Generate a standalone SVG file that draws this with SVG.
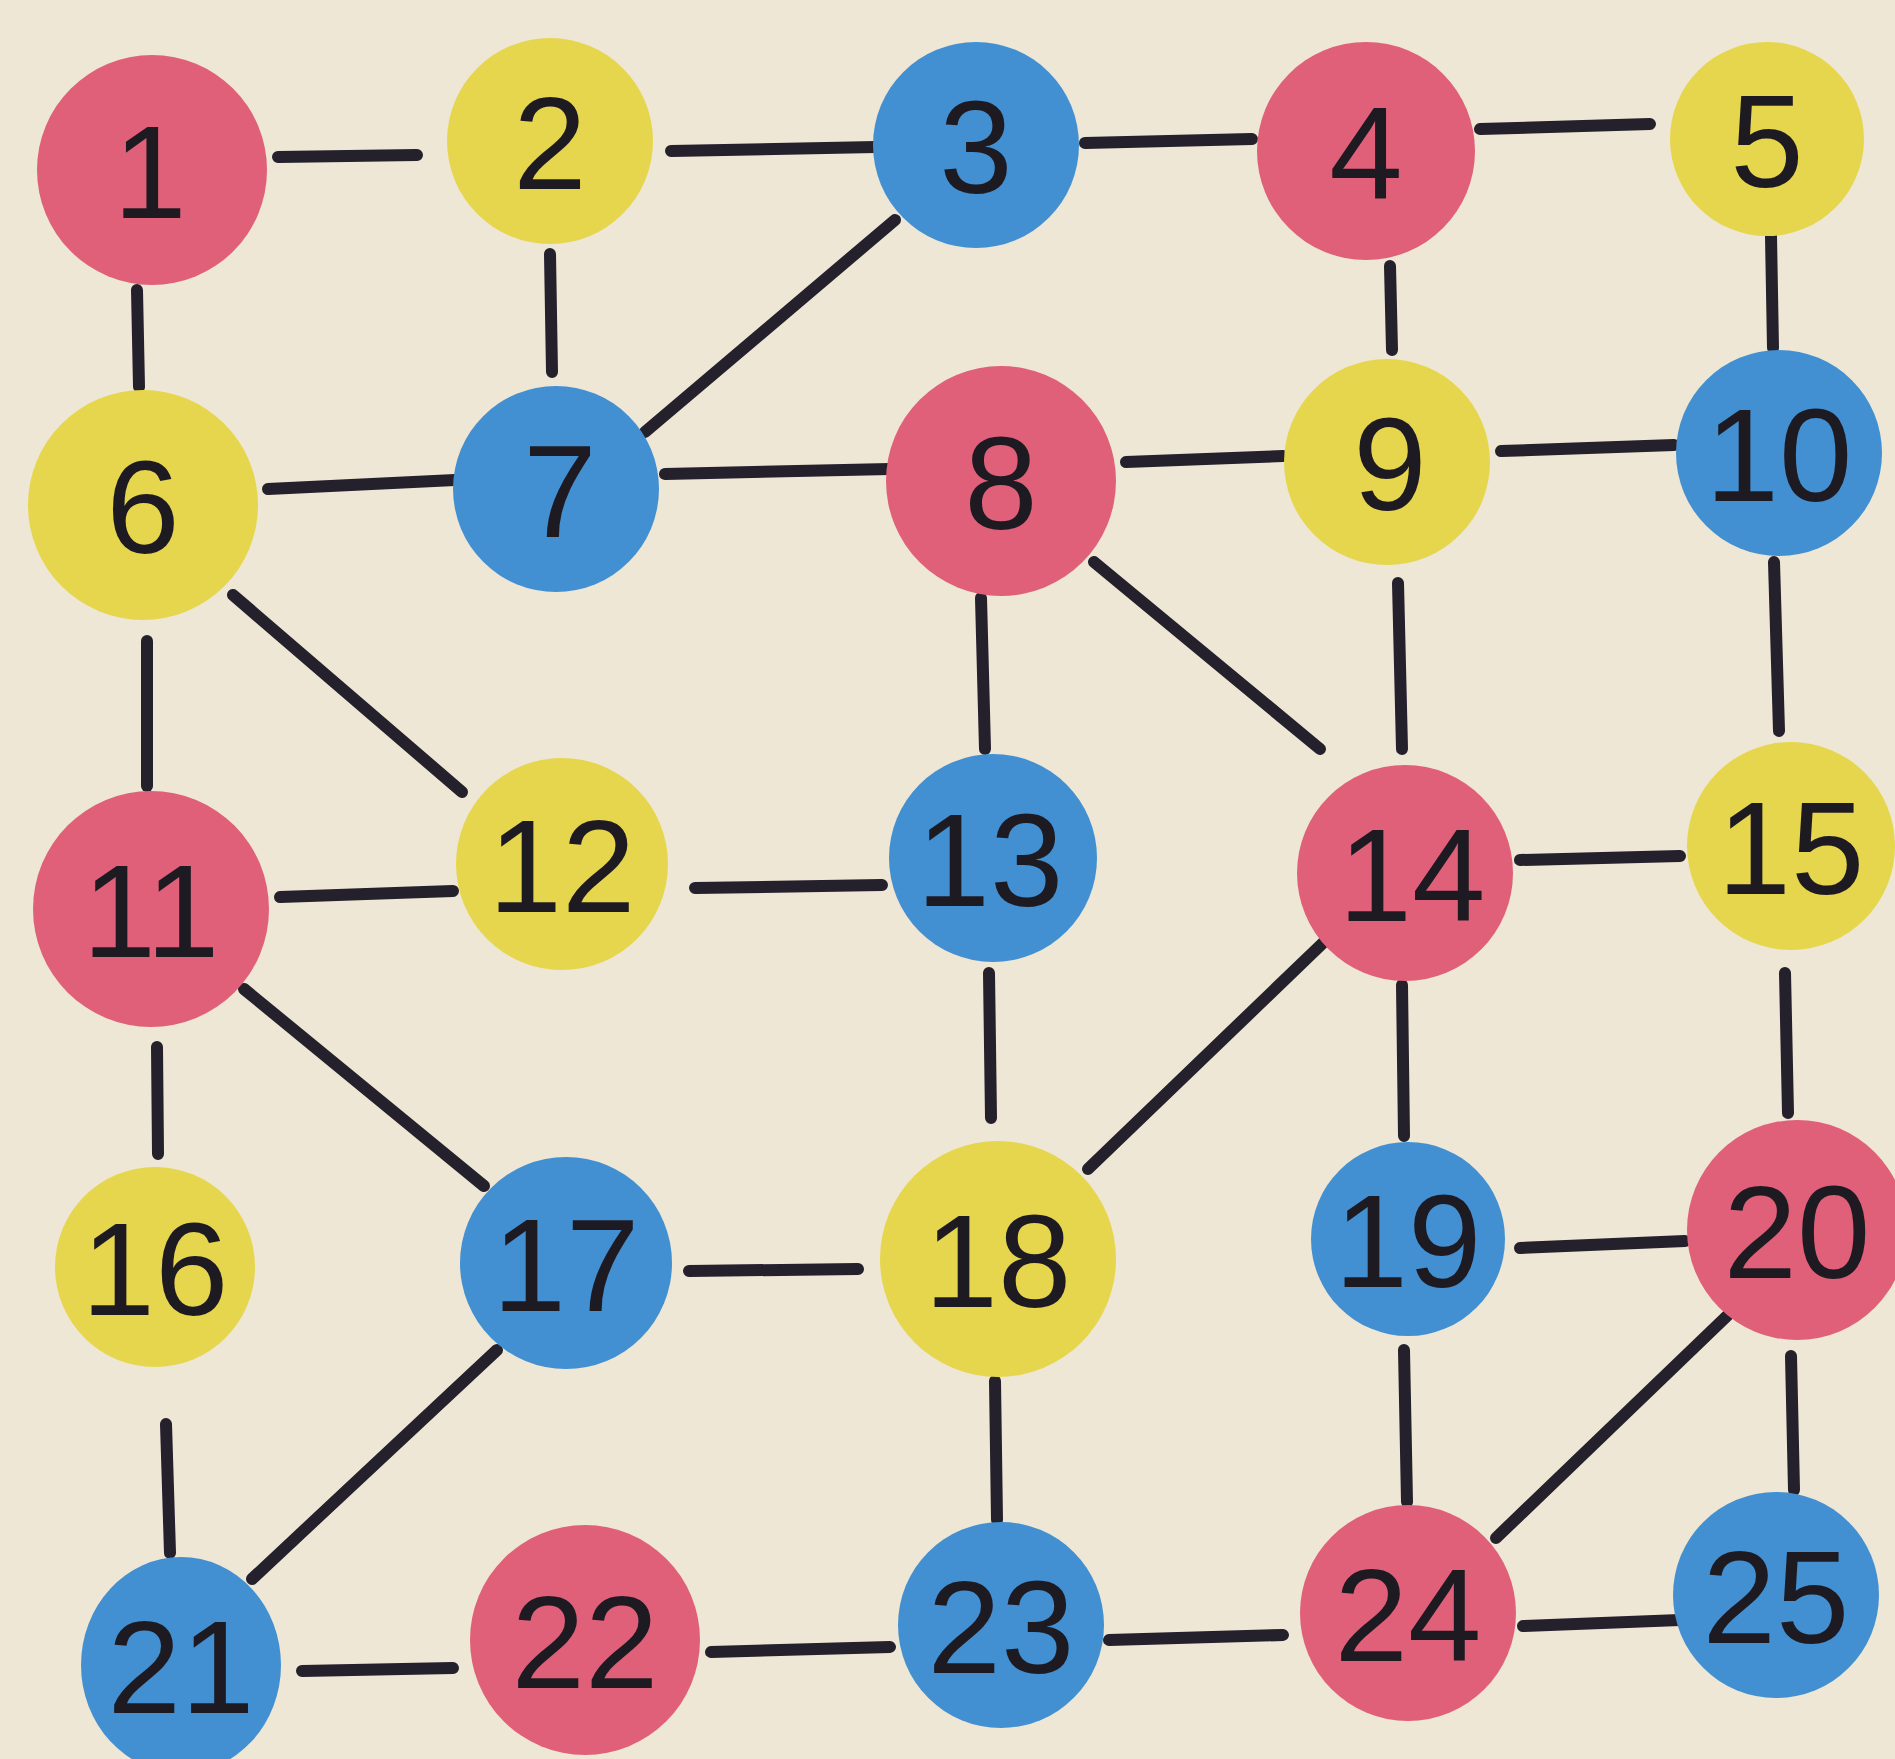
<svg xmlns="http://www.w3.org/2000/svg" width="1895" height="1759" viewBox="0 0 1895 1759">
<style>
.bg{fill:#eee7d5}
.p{fill:#e0607a}
.y{fill:#e6d64e}
.b{fill:#4290d2}
.e line{stroke:#24202c;stroke-width:12;stroke-linecap:round}
text{font-family:"Liberation Sans",Arial,sans-serif;font-size:132px;fill:#1e1a22;text-anchor:middle}
</style>
<rect class="bg" x="0" y="0" width="1895" height="1759"/>
<g id="connectors" class="e">
<line x1="278" y1="157" x2="417" y2="155"/>
<line x1="671" y1="151" x2="876" y2="147"/>
<line x1="1085" y1="143" x2="1252" y2="139"/>
<line x1="1480" y1="129" x2="1650" y2="124"/>
<line x1="137" y1="290" x2="139" y2="387"/>
<line x1="550" y1="254" x2="552" y2="372"/>
<line x1="895" y1="220" x2="645" y2="432"/>
<line x1="1390" y1="266" x2="1392" y2="350"/>
<line x1="1771" y1="236" x2="1773" y2="348"/>
<line x1="268" y1="489" x2="455" y2="480"/>
<line x1="665" y1="474" x2="890" y2="469"/>
<line x1="1126" y1="462" x2="1283" y2="456"/>
<line x1="1501" y1="451" x2="1674" y2="445"/>
<line x1="147" y1="641" x2="147" y2="786"/>
<line x1="233" y1="595" x2="462" y2="792"/>
<line x1="981" y1="598" x2="985" y2="749"/>
<line x1="1094" y1="562" x2="1320" y2="749"/>
<line x1="1398" y1="583" x2="1402" y2="749"/>
<line x1="1774" y1="562" x2="1779" y2="731"/>
<line x1="280" y1="897" x2="453" y2="891"/>
<line x1="695" y1="888" x2="882" y2="885"/>
<line x1="1520" y1="860" x2="1680" y2="856"/>
<line x1="157" y1="1047" x2="158" y2="1154"/>
<line x1="244" y1="989" x2="484" y2="1186"/>
<line x1="989" y1="973" x2="991" y2="1118"/>
<line x1="1325" y1="941" x2="1088" y2="1169"/>
<line x1="1402" y1="985" x2="1404" y2="1136"/>
<line x1="1785" y1="973" x2="1788" y2="1113"/>
<line x1="689" y1="1271" x2="858" y2="1269"/>
<line x1="1520" y1="1248" x2="1685" y2="1241"/>
<line x1="166" y1="1424" x2="170" y2="1553"/>
<line x1="497" y1="1350" x2="252" y2="1579"/>
<line x1="995" y1="1381" x2="997" y2="1520"/>
<line x1="1404" y1="1350" x2="1407" y2="1502"/>
<line x1="1728" y1="1315" x2="1496" y2="1538"/>
<line x1="1791" y1="1356" x2="1794" y2="1490"/>
<line x1="302" y1="1671" x2="453" y2="1668"/>
<line x1="711" y1="1652" x2="890" y2="1647"/>
<line x1="1109" y1="1640" x2="1283" y2="1635"/>
<line x1="1523" y1="1626" x2="1680" y2="1620"/>
</g>
<g id="n1"><circle class="p" cx="152" cy="170" r="115"/><text x="150" y="218">1</text></g>
<g id="n2"><circle class="y" cx="550" cy="141" r="103"/><text x="550" y="189">2</text></g>
<g id="n3"><circle class="b" cx="976" cy="145" r="103"/><text x="976" y="193">3</text></g>
<g id="n4"><circle class="p" cx="1366" cy="151" r="109"/><text x="1366" y="199">4</text></g>
<g id="n5"><circle class="y" cx="1767" cy="139" r="97"/><text x="1767" y="187">5</text></g>
<g id="n6"><circle class="y" cx="143" cy="505" r="115"/><text x="143" y="553">6</text></g>
<g id="n7"><circle class="b" cx="556" cy="489" r="103"/><text x="560" y="537">7</text></g>
<g id="n8"><circle class="p" cx="1001" cy="481" r="115"/><text x="1001" y="529">8</text></g>
<g id="n9"><circle class="y" cx="1387" cy="462" r="103"/><text x="1390" y="510">9</text></g>
<g id="n10"><circle class="b" cx="1779" cy="453" r="103"/><text x="1779" y="501">10</text></g>
<g id="n11"><circle class="p" cx="151" cy="909" r="118"/><text x="151" y="957">11</text></g>
<g id="n12"><circle class="y" cx="562" cy="864" r="106"/><text x="562" y="912">12</text></g>
<g id="n13"><circle class="b" cx="993" cy="858" r="104"/><text x="990" y="906">13</text></g>
<g id="n14"><circle class="p" cx="1405" cy="873" r="108"/><text x="1412" y="921">14</text></g>
<g id="n15"><circle class="y" cx="1791" cy="846" r="104"/><text x="1791" y="894">15</text></g>
<g id="n16"><circle class="y" cx="155" cy="1267" r="100"/><text x="155" y="1315">16</text></g>
<g id="n17"><circle class="b" cx="566" cy="1263" r="106"/><text x="566" y="1311">17</text></g>
<g id="n18"><circle class="y" cx="998" cy="1259" r="118"/><text x="998" y="1307">18</text></g>
<g id="n19"><circle class="b" cx="1408" cy="1239" r="97"/><text x="1408" y="1287">19</text></g>
<g id="n20"><circle class="p" cx="1797" cy="1230" r="110"/><text x="1797" y="1278">20</text></g>
<g id="n21"><ellipse class="b" cx="181" cy="1665" rx="100" ry="108"/><text x="181" y="1713">21</text></g>
<g id="n22"><circle class="p" cx="585" cy="1640" r="115"/><text x="585" y="1688">22</text></g>
<g id="n23"><circle class="b" cx="1001" cy="1625" r="103"/><text x="1001" y="1673">23</text></g>
<g id="n24"><circle class="p" cx="1408" cy="1613" r="108"/><text x="1408" y="1661">24</text></g>
<g id="n25"><circle class="b" cx="1776" cy="1595" r="103"/><text x="1776" y="1643">25</text></g>
</svg>
